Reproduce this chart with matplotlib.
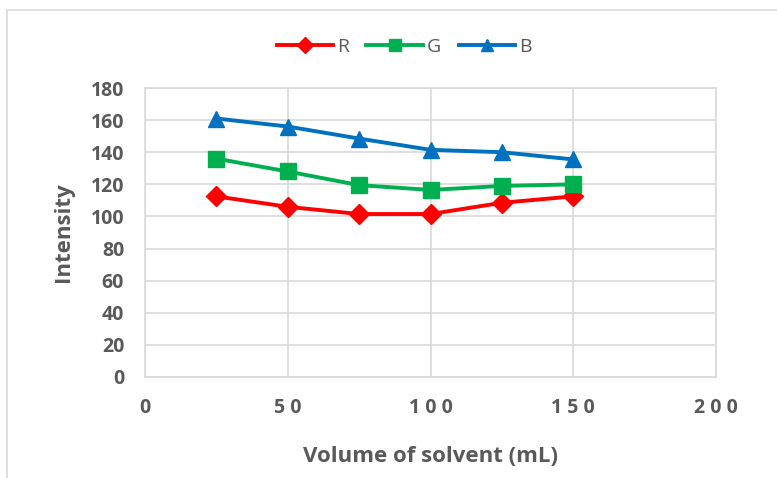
import matplotlib
matplotlib.use('Agg')
import matplotlib.pyplot as plt
from matplotlib.patches import Rectangle

plt.rcParams['font.family'] = ['Open Sans', 'DejaVu Sans']

volume = [25, 50, 75, 100, 125, 150]
R = [112.5, 106, 101.5, 101.5, 108.5, 112.5]
G = [136, 128, 119.5, 116.5, 119, 120]
B = [161, 156, 148.5, 141.5, 140, 135.5]
xticks = [0, 50, 100, 150, 200]
yticks = list(range(0, 181, 20))

grey = '#595959'
grid = '#d9d9d9'

fig = plt.figure(figsize=(7.77, 4.78), dpi=100)
# chart area border
fig.patches.append(Rectangle((7/777, -0.1), 1.2, 1.1 - 10/478, transform=fig.transFigure,
                             fill=False, ec=grid, lw=1.2))
ax = fig.add_axes([145/777, 101/478, 571/777, 289/478])

ax.plot(volume, R, color='#ff0000', lw=2.8, marker='D', ms=10, label='R', zorder=3)
ax.plot(volume, G, color='#00b050', lw=2.8, marker='s', ms=11.5, label='G', zorder=3)
ax.plot(volume, B, color='#0070c0', lw=2.8, marker='^', ms=11.5, label='B', zorder=3)

ax.set_xlim(0, 200)
ax.set_ylim(0, 180)
ax.set_xticks(xticks)
ax.set_yticks(yticks)
ax.set_xticklabels([' '.join(str(t)) for t in xticks])
ax.grid(True, color=grid, lw=1.2)
ax.set_axisbelow(True)
for s in ax.spines.values():
    s.set_color(grid)
    s.set_linewidth(1.2)
ax.tick_params(length=0, labelsize=14, labelcolor=grey)
for lab in ax.get_xticklabels() + ax.get_yticklabels():
    lab.set_fontweight('bold')
ax.tick_params(axis='x', pad=15)
ax.tick_params(axis='y', pad=15)

ax.set_xlabel('Volume of solvent (mL)', fontsize=16, fontweight='bold', color=grey, labelpad=20)
ax.set_ylabel('Intensity', fontsize=16, fontweight='bold', color=grey, labelpad=12)

fig.legend(loc='center', bbox_to_anchor=(404/777, 1 - 47/478), ncol=3, frameon=False,
           fontsize=14, labelcolor=grey, handlelength=2.9, columnspacing=0.9,
           handletextpad=0.2, markerscale=0.8)

fig.savefig('out.png', dpi=100)
